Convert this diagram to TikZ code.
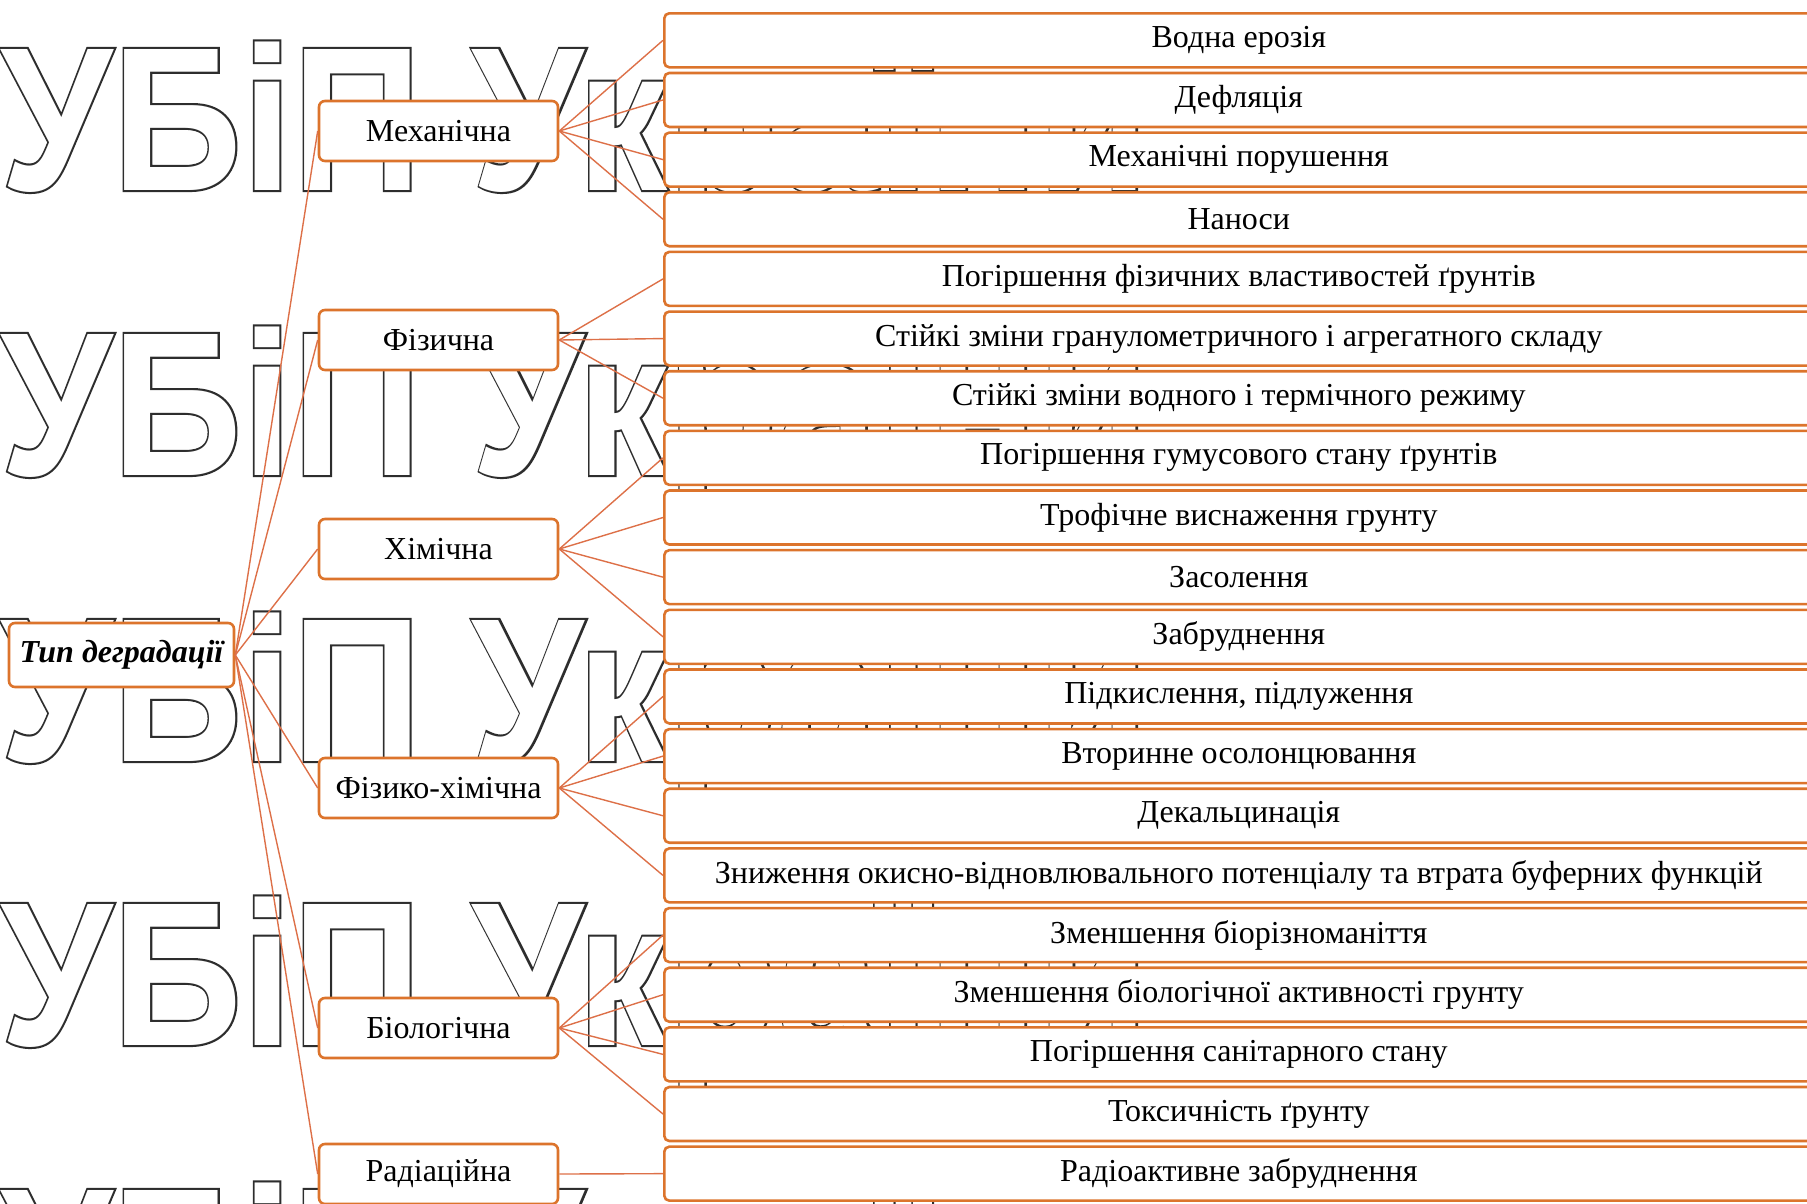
\documentclass[tikz,border=0pt]{standalone}
\usepackage{fontspec}
\usepackage{graphicx}
\setmainfont{Liberation Serif}
\newfontfamily\wmdark{Liberation Sans Bold}[FakeBold=2]
\newfontfamily\wmlight{Liberation Sans Bold}
\definecolor{boxor}{RGB}{220,116,44}
\definecolor{lnc}{RGB}{221,112,72}
\definecolor{wmgray}{RGB}{45,45,45}
\newcommand\myfs{\fontsize{32}{38}\selectfont}
\newcommand\wmstr{УБіП України}
\tikzset{
  wmd/.style={anchor=base west, inner sep=0pt, text=wmgray, font=\wmdark\fontsize{205}{205}\selectfont},
  wml/.style={anchor=base west, inner sep=0pt, text=white, font=\wmlight\fontsize{205}{205}\selectfont},
  rbox/.style={draw=boxor, line width=2.6pt, fill=white, rounded corners=5pt, minimum width=1149pt, minimum height=54pt, inner sep=0pt, anchor=north west, font=\myfs, text=black},
  cbox/.style={draw=boxor, line width=2.6pt, fill=white, rounded corners=6pt, minimum width=239pt, minimum height=60pt, inner sep=0pt, font=\myfs, text=black},
  tbox/.style={draw=boxor, line width=2.6pt, fill=white, rounded corners=6pt, minimum width=225pt, minimum height=64pt, inner sep=0pt, font=\myfs\bfseries\itshape, text=black},
  ln/.style={draw=lnc, line width=1.4pt}
}
\begin{document}
\begin{tikzpicture}[x=1pt,y=-1pt]
\useasboundingbox (0,0) rectangle (1807,1203);
\clip (0,0) rectangle (1807,1203);
% watermark (outlined letters)
\foreach \yy [count=\k] in {190,475,761,1045,1331} {
  \node[wmd] (wmd\k) at (0,\yy) {\scalebox{0.88}[1]{\wmstr}};
  \node[wml] (wml\k) at (0,\yy) {\scalebox{0.88}[1]{\wmstr}};
}
% right boxes
\foreach \t [count=\i from 0] in {Водна ерозія, Дефляція, Механічні порушення, Наноси,
  Погіршення фізичних властивостей ґрунтів,
  Стійкі зміни гранулометричного і агрегатного складу,
  Стійкі зміни водного і термічного режиму,
  Погіршення гумусового стану ґрунтів,
  Трофічне виснаження грунту, Засолення, Забруднення,
  {Підкислення, підлуження}, Вторинне осолонцювання, Декальцинація,
  Зниження окисно-відновлювального потенціалу та втрата буферних функцій,
  Зменшення біорізноманіття,
  Зменшення біологічної активності грунту,
  Погіршення санітарного стану, Токсичність ґрунту,
  Радіоактивне забруднення}
  \node[rbox] (r\i) at (663,{12+\i*59.65}) {\t};
% categories
\node[cbox] (c1) at (438.5,131) {Механічна};
\node[cbox] (c2) at (438.5,340) {Фізична};
\node[cbox] (c3) at (438.5,549) {Хімічна};
\node[cbox] (c4) at (438.5,788) {Фізико-хімічна};
\node[cbox] (c5) at (438.5,1028) {Біологічна};
\node[cbox] (c6) at (438.5,1174) {Радіаційна};
\node[tbox] (tip) at (121.5,655) {Тип деградації};
% connectors
\foreach \c in {c1,c2,c3,c4,c5,c6} \draw[ln] (tip.east) -- (\c.west);
\foreach \r in {0,1,2,3} \draw[ln] (c1.east) -- (r\r.west);
\foreach \r in {4,5,6} \draw[ln] (c2.east) -- (r\r.west);
\foreach \r in {7,8,9,10} \draw[ln] (c3.east) -- (r\r.west);
\foreach \r in {11,12,13,14} \draw[ln] (c4.east) -- (r\r.west);
\foreach \r in {15,16,17,18} \draw[ln] (c5.east) -- (r\r.west);
\draw[ln] (c6.east) -- (r19.west);
\end{tikzpicture}
\end{document}
